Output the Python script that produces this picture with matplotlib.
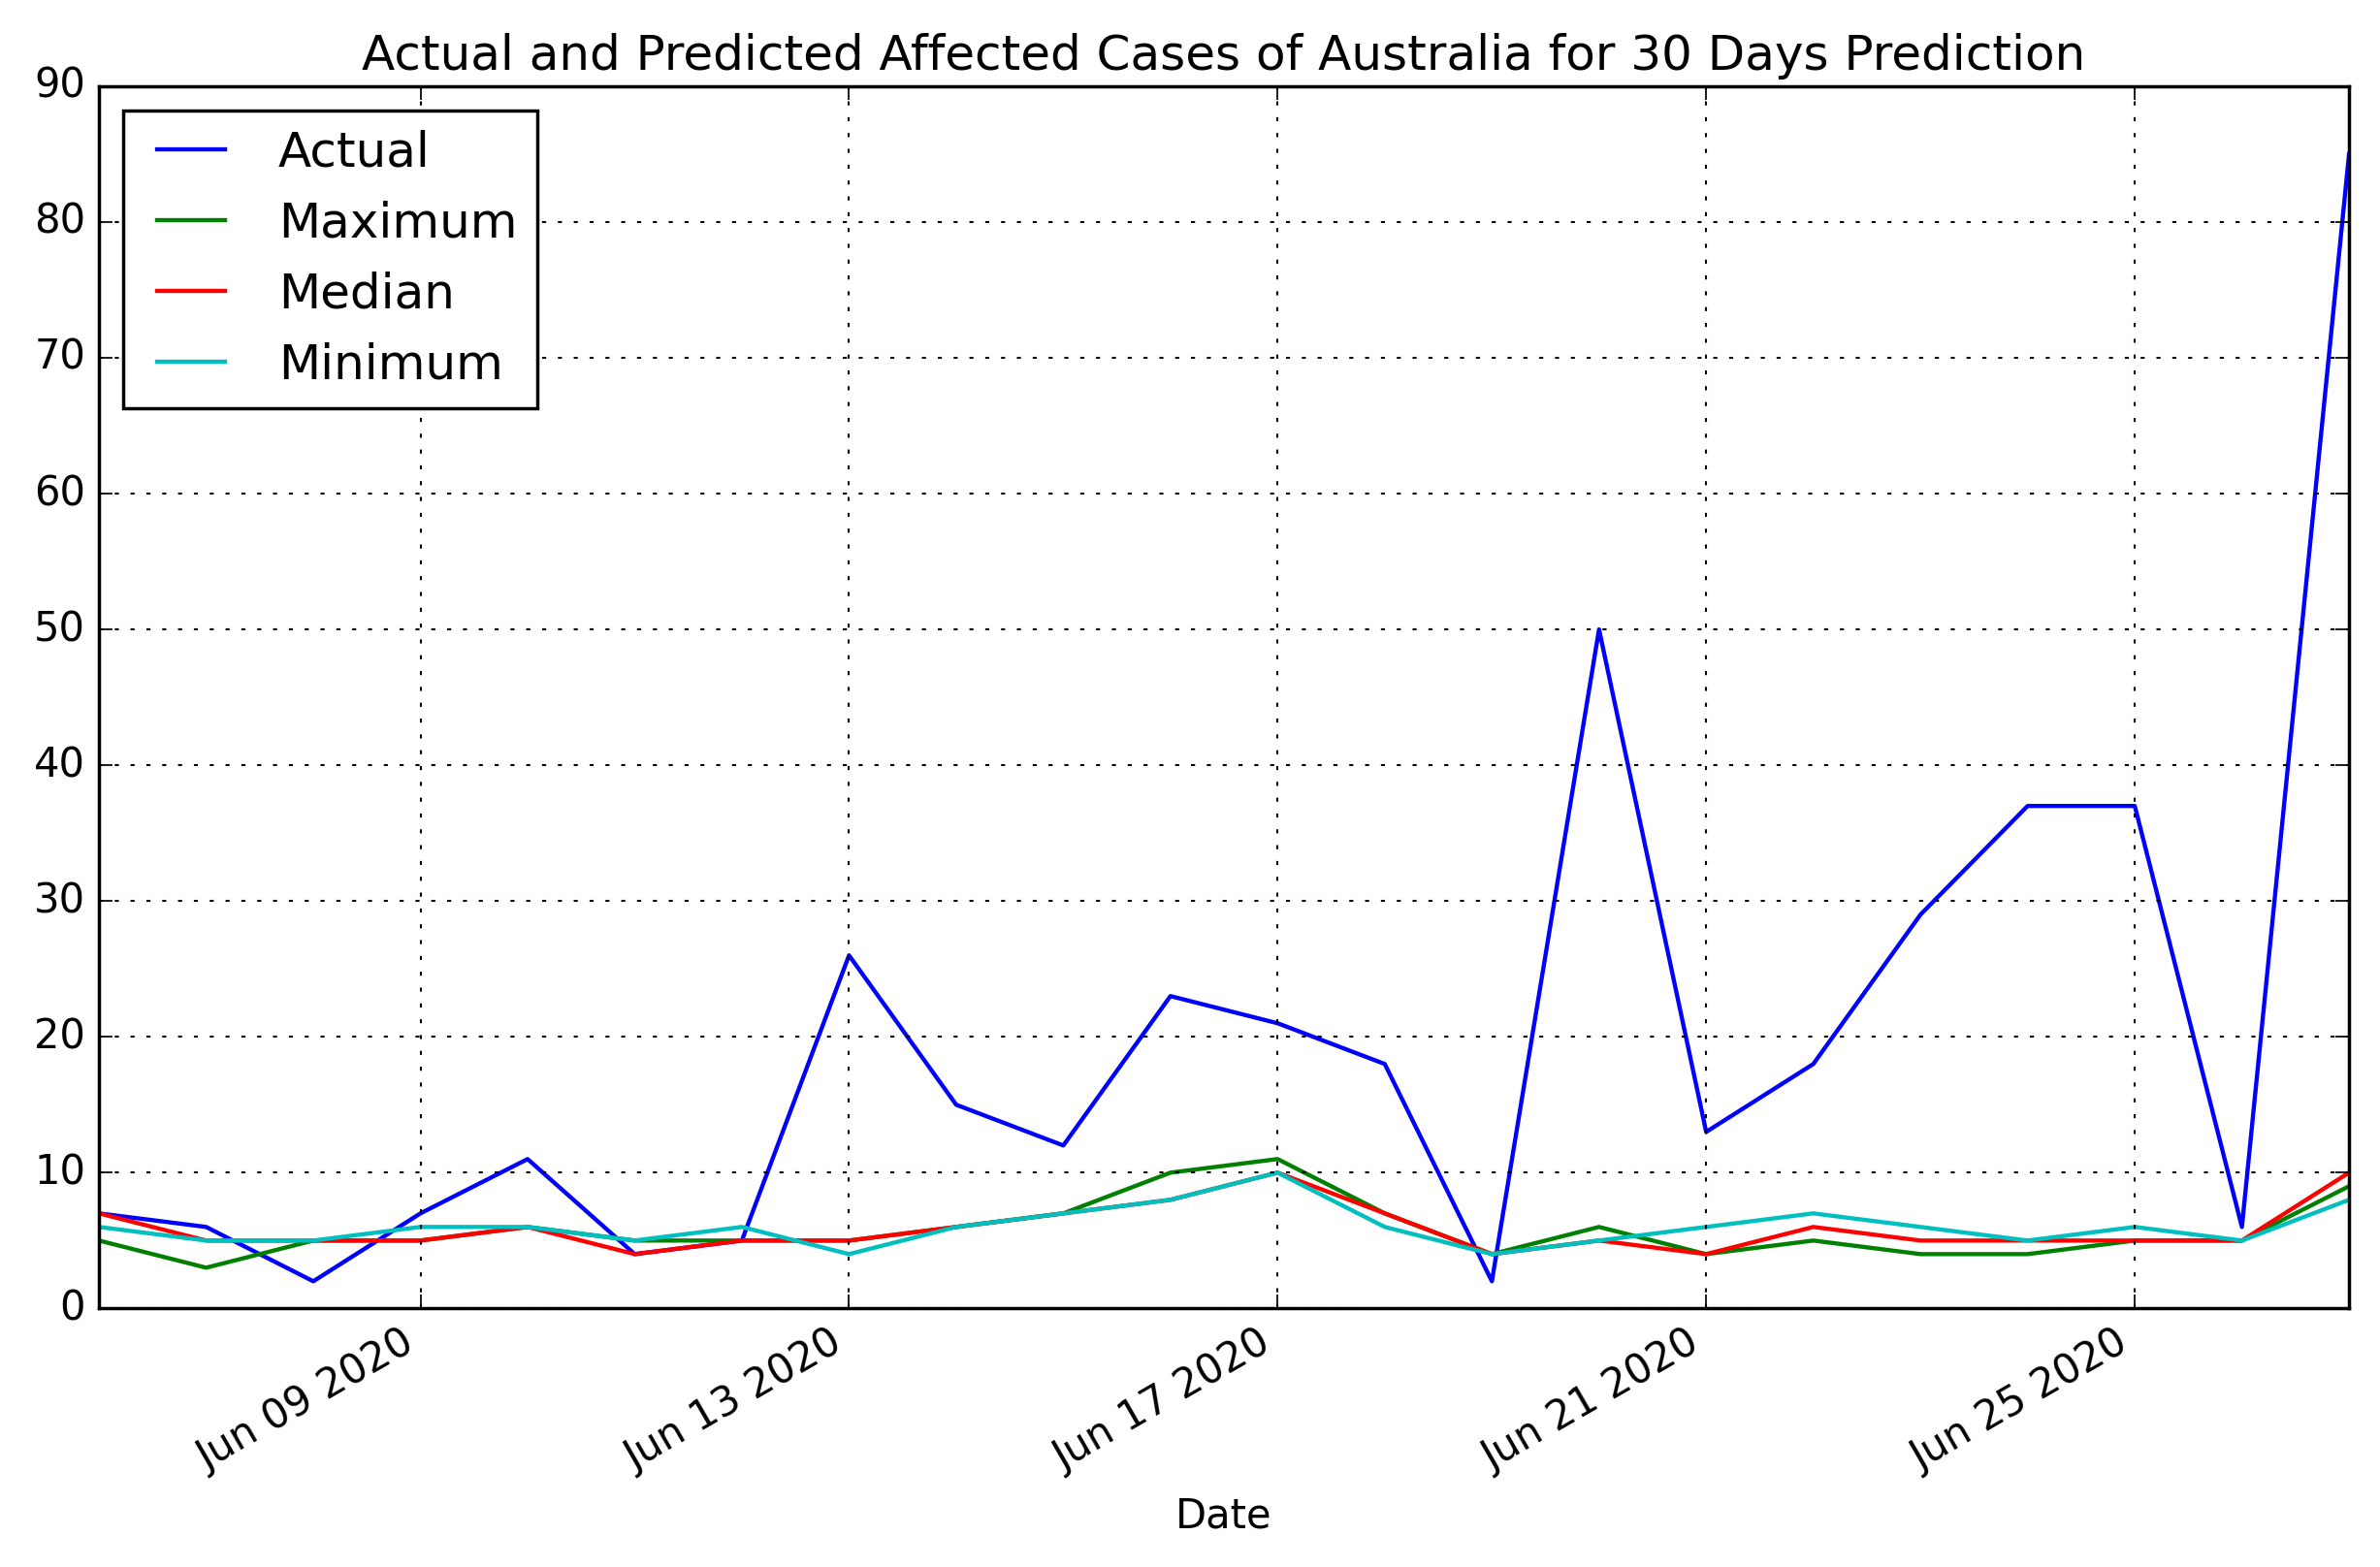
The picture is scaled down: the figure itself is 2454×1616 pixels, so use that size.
import matplotlib
matplotlib.use('Agg')
import matplotlib.pyplot as plt
import matplotlib.dates as mdates
import pandas as pd

plt.style.use('classic')
plt.rcParams['lines.linewidth'] = 1.25

# data
dates = pd.date_range('2020-06-06', '2020-06-27', freq='D')
actual = [7, 6, 2, 7, 11, 4, 5, 26, 15, 12, 23, 21, 18, 2, 50, 13, 18, 29, 37, 37, 6, 85]
maximum = [5, 3, 5, 5, 6, 5, 5, 5, 6, 7, 10, 11, 7, 4, 6, 4, 5, 4, 4, 5, 5, 9]
median = [7, 5, 5, 5, 6, 4, 5, 5, 6, 7, 8, 10, 7, 4, 5, 4, 6, 5, 5, 5, 5, 10]
minimum = [6, 5, 5, 6, 6, 5, 6, 4, 6, 7, 8, 10, 6, 4, 5, 6, 7, 6, 5, 6, 5, 8]

DPI = 250
fig = plt.figure(figsize=(2454 / DPI, 1616 / DPI), dpi=DPI, facecolor='white')
ax = fig.add_axes([0.0416, 0.165, 0.9454, 0.78])

ax.plot(dates, actual, 'b-', label='Actual')
ax.plot(dates, maximum, 'g-', label='Maximum')
ax.plot(dates, median, 'r-', label='Median')
ax.plot(dates, minimum, 'c-', label='Minimum')

ax.set_xlim(dates[0], dates[-1])
ax.set_ylim(0, 90)
ax.xaxis.set_major_locator(mdates.DayLocator(bymonthday=[9, 13, 17, 21, 25]))
ax.xaxis.set_major_formatter(mdates.DateFormatter('%b %d %Y'))
for lbl in ax.get_xticklabels():
    lbl.set_rotation(30)
    lbl.set_ha('right')

# classic dotted grid, dash pattern a bit wider like the reference
ax.grid(True, linestyle=(0, (1.2, 3.5)), linewidth=0.6)
ax.set_title('Actual and Predicted Affected Cases of Australia for 30 Days Prediction')
ax.set_xlabel('Date')
ax.legend(loc='upper left')

plt.savefig('out.png', dpi=DPI, facecolor='white')
